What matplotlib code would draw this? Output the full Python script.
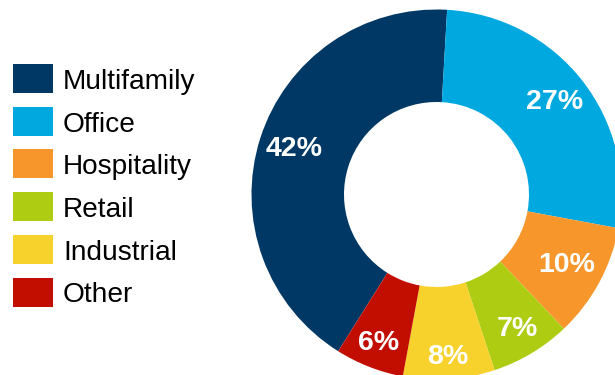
import numpy as np
import matplotlib.pyplot as plt
from matplotlib.patches import Rectangle

categories = ['Multifamily', 'Office', 'Hospitality', 'Retail', 'Industrial', 'Other']
shares = [42, 27, 10, 7, 8, 6]
colors = ['#003865', '#00A8E0', '#F7962B', '#AECC12', '#F7D12C', '#C20E00']

# radial position of each percentage label (fraction of outer radius)
label_r = [0.81, 0.81, 0.80, 0.85, 0.88, 0.86]

plt.rcParams['font.family'] = ['Liberation Sans', 'DejaVu Sans']

W, H = 615, 375
fig = plt.figure(figsize=(W / 100, H / 100), dpi=100)

# donut: centre (436.5, 194.5) px from top-left, outer radius 185 px
cx, cy, R = 436.5, 194.5, 185
ax = fig.add_axes([(cx - R) / W, (H - cy - R) / H, 2 * R / W, 2 * R / H])

total = sum(shares)
start = 86.7 + 360 * shares[0] / total
wedges, _ = ax.pie(shares, colors=colors, startangle=start, counterclock=False,
                   radius=1, wedgeprops=dict(width=0.5, edgecolor='none'))
ax.set_xlim(-1, 1)
ax.set_ylim(-1, 1)
ax.axis('off')

for w, s, r in zip(wedges, shares, label_r):
    w.set_clip_on(False)
    mid = np.deg2rad((w.theta1 + w.theta2) / 2)
    ax.text(r * np.cos(mid), r * np.sin(mid), f'{s}%', color='white',
            fontsize=20.5, fontweight='bold', ha='center', va='center')

# legend on the left
row0, step = 78.5, 42.7
for i, (name, c) in enumerate(zip(categories, colors)):
    yc = row0 + i * step
    fig.patches.append(Rectangle((13 / W, 1 - (yc + 14.5) / H), 40 / W, 29 / H,
                                 transform=fig.transFigure, facecolor=c,
                                 edgecolor='none'))
    fig.text(63 / W, 1 - (yc + 10.5) / H, name, fontsize=20.2, va='baseline',
             ha='left', color='black')

fig.savefig('out.png', dpi=100)
